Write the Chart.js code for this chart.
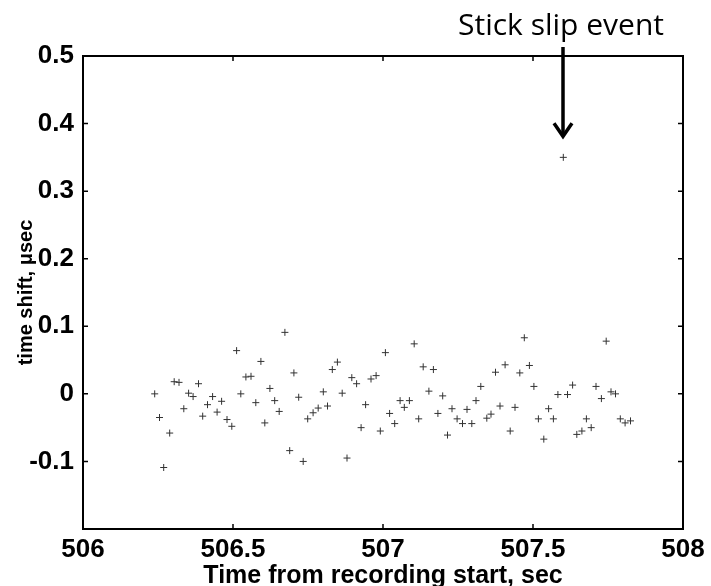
<!DOCTYPE html>
<html>
<head>
<meta charset="utf-8">
<script src="https://cdn.jsdelivr.net/npm/chart.js@4.4.1/dist/chart.umd.min.js"></script>
<style>
  html, body { margin:0; padding:0; background:#fff; }
  #wrap { width:711px; height:586px; }
</style>
</head>
<body>
<div id="wrap"><canvas id="chart" width="711" height="586"></canvas></div>
<script>
// values
const timeSec = [506.239, 506.255, 506.269, 506.289, 506.304, 506.320, 506.336, 506.352, 506.367, 506.385,
  506.399, 506.415, 506.432, 506.447, 506.462, 506.480, 506.496, 506.512, 506.526, 506.543,
  506.560, 506.576, 506.593, 506.606, 506.623, 506.639, 506.654, 506.673, 506.689, 506.703,
  506.719, 506.734, 506.749, 506.767, 506.784, 506.801, 506.815, 506.831, 506.848, 506.864,
  506.880, 506.896, 506.912, 506.927, 506.942, 506.960, 506.977, 506.991, 507.008, 507.022,
  507.039, 507.057, 507.071, 507.088, 507.104, 507.119, 507.134, 507.153, 507.168, 507.183,
  507.199, 507.215, 507.230, 507.247, 507.265, 507.280, 507.296, 507.310, 507.326, 507.346,
  507.360, 507.375, 507.390, 507.407, 507.424, 507.440, 507.456, 507.471, 507.488, 507.503,
  507.518, 507.536, 507.552, 507.568, 507.583, 507.601, 507.615, 507.632, 507.646, 507.663,
  507.678, 507.694, 507.710, 507.728, 507.744, 507.760, 507.775, 507.791, 507.807, 507.825];
const shiftUs = [0.000, -0.035, -0.109, -0.058, 0.018, 0.017, -0.022, 0.001, -0.004, 0.015,
  -0.033, -0.016, -0.004, -0.027, -0.011, -0.038, -0.048, 0.064, 0.000, 0.025,
  0.026, -0.013, 0.048, -0.043, 0.008, -0.010, -0.026, 0.091, -0.084, 0.031,
  -0.005, -0.100, -0.037, -0.028, -0.021, 0.003, -0.018, 0.036, 0.047, 0.001,
  -0.095, 0.024, 0.015, -0.050, -0.016, 0.022, 0.027, -0.055, 0.061, -0.029,
  -0.044, -0.010, -0.020, -0.010, 0.074, -0.037, 0.040, 0.004, 0.036, -0.029,
  -0.003, -0.061, -0.022, -0.037, -0.044, -0.023, -0.044, -0.010, 0.011, -0.036,
  -0.030, 0.032, -0.018, 0.043, -0.055, -0.020, 0.031, 0.083, 0.042, 0.011,
  -0.037, -0.067, -0.022, -0.037, -0.001, 0.350, -0.001, 0.013, -0.060, -0.055,
  -0.037, -0.050, 0.011, -0.007, 0.078, 0.003, 0.000, -0.037, -0.043, -0.040];
const xTicks = [506, 506.5, 507, 507.5, 508];
const yTicks = [-0.1, 0, 0.1, 0.2, 0.3, 0.4, 0.5];
const eventTime = 507.6, eventShift = 0.35;
const eventLabel = 'Stick slip event';

const points = timeSec.map((t, i) => ({ x: t, y: shiftUs[i] }));
const FONT = "'Liberation Sans', Arial, sans-serif";

// matlab style box + inward ticks + the arrow note
const frame = {
  id: 'frame',
  afterDraw(chart){
    const { ctx, chartArea:a, scales:{ x, y } } = chart;
    ctx.save();
    ctx.strokeStyle = '#000';
    ctx.lineWidth = 2;
    ctx.strokeRect(a.left, a.top, a.right - a.left, a.bottom - a.top);
    ctx.lineWidth = 1.5;
    ctx.beginPath();
    const tl = 5;
    xTicks.forEach(t => {
      const px = x.getPixelForValue(t);
      ctx.moveTo(px, a.bottom); ctx.lineTo(px, a.bottom - tl);
      ctx.moveTo(px, a.top); ctx.lineTo(px, a.top + tl);
    });
    yTicks.forEach(t => {
      const py = y.getPixelForValue(t);
      ctx.moveTo(a.left, py); ctx.lineTo(a.left + tl, py);
      ctx.moveTo(a.right, py); ctx.lineTo(a.right - tl, py);
    });
    ctx.stroke();

    // arrow
    const ax = x.getPixelForValue(eventTime);
    const tip = y.getPixelForValue(eventShift) - 21;
    ctx.lineWidth = 3.5;
    ctx.beginPath();
    ctx.moveTo(ax, 47); ctx.lineTo(ax, tip - 1);
    ctx.stroke();
    ctx.beginPath();
    ctx.moveTo(ax - 9, tip - 13); ctx.lineTo(ax, tip); ctx.lineTo(ax + 9, tip - 13);
    ctx.stroke();

    ctx.fillStyle = '#000';
    ctx.font = "30px 'Open Sans', sans-serif";
    ctx.textAlign = 'center';
    ctx.textBaseline = 'alphabetic';
    ctx.fillText(eventLabel, ax - 2, 35);
    ctx.restore();
  }
};

new Chart(document.getElementById('chart'), {
  type: 'scatter',
  data: { datasets: [{
    data: points,
    pointStyle: 'cross',
    pointRadius: 3.5,
    pointBorderWidth: 1,
    borderColor: '#333',
    backgroundColor: '#333'
  }]},
  options: {
    responsive: false,
    animation: false,
    devicePixelRatio: 1,
    layout: { padding: { top: 56, right: 28, left: 0, bottom: 0 } },
    plugins: { legend: { display:false }, tooltip: { enabled:false } },
    scales: {
      x: {
        type: 'linear', min: 506, max: 508,
        grid: { display:false, drawTicks:false },
        border: { display:false },
        afterBuildTicks: s => { s.ticks = xTicks.map(v => ({ value: v })); },
        afterFit: s => { s.height = 57; },
        ticks: { color:'#000', padding: 5, maxRotation: 0, autoSkip: false,
          font: { family: FONT, size: 26, weight: 'bold' },
          callback: v => String(v) },
        title: { display:true, text:'Time from recording start, sec', color:'#000',
          font: { family: FONT, size: 25, weight: 'bold', lineHeight: 1 },
          padding: { top: 0, bottom: -3 } }
      },
      y: {
        type: 'linear', min: -0.2, max: 0.5,
        grid: { display:false, drawTicks:false },
        border: { display:false },
        afterBuildTicks: s => { s.ticks = yTicks.map(v => ({ value: v })); },
        afterFit: s => { s.width = 83; },
        ticks: { color:'#000', padding: 9, autoSkip: false,
          font: { family: FONT, size: 26, weight: 'bold' },
          callback: v => String(v) },
        title: { display:true, text:'time shift, μsec', color:'#000',
          font: { family: FONT, size: 20, weight: 'bold', lineHeight: 1 },
          padding: { top: 16, bottom: 0 } }
      }
    }
  },
  plugins: [frame]
});
</script>
</body>
</html>
